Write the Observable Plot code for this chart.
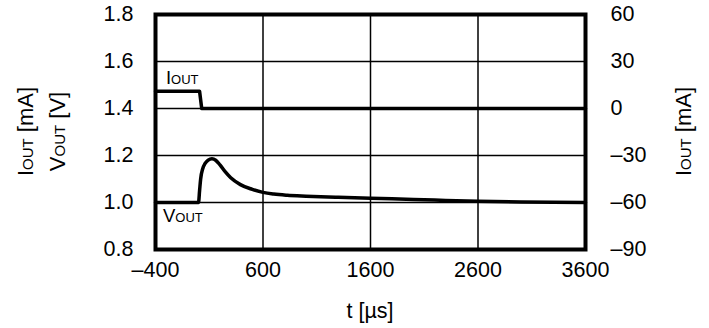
<!DOCTYPE html>
<html><head><meta charset="utf-8">
<script src="https://cdn.jsdelivr.net/npm/d3@7"></script>
<script src="https://cdn.jsdelivr.net/npm/@observablehq/plot@0.6"></script>
<style>body{margin:0;background:#fff;font-family:"Liberation Sans",Arial,sans-serif}</style>
</head><body><div id="chart"></div>
<script>
// Data
const tIout = [-400, 10, 30, 3600];            // µs
const iout = [11, 11, 0, 0];                   // mA
const tVout = [-400, 0, 10, 20, 40, 60, 90, 125, 160, 200, 250, 300, 390, 500, 600, 700, 825, 1000, 1300, 1600, 2000, 2300, 2600, 3000, 3600];
const vout  = [1.0, 1.0, 1.05, 1.10, 1.145, 1.165, 1.18, 1.186, 1.18, 1.16, 1.13, 1.105, 1.076, 1.056, 1.043, 1.036, 1.031, 1.027, 1.022, 1.018, 1.013, 1.009, 1.005, 1.002, 1.0];
const xTicks = [-400, 600, 1600, 2600, 3600];
const xTickLabels = ["–400", "600", "1600", "2600", "3600"];
const vTicks = [0.8, 1.0, 1.2, 1.4, 1.6, 1.8];
const vTickLabels = ["0.8", "1.0", "1.2", "1.4", "1.6", "1.8"];
const iTickLabels = ["–90", "–60", "–30", "0", "30", "60"];

// secondary axis: IOUT (mA) -> VOUT scale position
const iToV = i => 1.4 + i / 150;

const vData = tVout.map((t, k) => ({t, v: vout[k]}));
const iData = tIout.map((t, k) => ({t, i: iout[k]}));

const fs = 21.5;
const chart = Plot.plot({
  width: 709, height: 328,
  marginLeft: 155, marginRight: 124, marginTop: 14, marginBottom: 79,
  style: {fontFamily: "'Liberation Sans', Arial, sans-serif", fontSize: fs + "px", color: "#000", background: "#fff"},
  x: {domain: [-400, 3600]},
  y: {domain: [0.8, 1.8]},
  marks: [
    Plot.gridX(xTicks, {stroke: "#000", strokeOpacity: 1, strokeWidth: 1.5}),
    Plot.gridY(vTicks, {stroke: "#000", strokeOpacity: 1, strokeWidth: 1.5}),
    Plot.axisX(xTicks, {tickSize: 0, tickPadding: 12, label: null, fontSize: fs,
      tickFormat: d => xTickLabels[xTicks.indexOf(d)]}),
    Plot.axisY(vTicks, {anchor: "left", tickSize: 0, tickPadding: 22, label: null, fontSize: fs,
      tickFormat: d => vTickLabels[vTicks.indexOf(d)]}),
    Plot.axisY(vTicks, {anchor: "right", tickSize: 0, tickPadding: 25, label: null, fontSize: fs,
      tickFormat: d => iTickLabels[vTicks.indexOf(d)]}),
    Plot.line(vData, {x: "t", y: "v", stroke: "#000", strokeWidth: 3.5, strokeLinejoin: "round", curve: "monotone-x"}),
    Plot.line(iData, {x: "t", y: d => iToV(d.i), stroke: "#000", strokeWidth: 3.5, strokeLinejoin: "round"}),
    Plot.frame({stroke: "#000", strokeWidth: 4})
  ]
});
document.getElementById("chart").appendChild(chart);

const sx = chart.scale("x"), sy = chart.scale("y");
const svg = d3.select(chart);
const font = "'Liberation Sans', Arial, sans-serif";

function sublabel(g, main, sub, rest, big, small) {
  g.append("tspan").attr("font-size", big).text(main);
  g.append("tspan").attr("font-size", small).text(sub);
  if (rest) g.append("tspan").attr("font-size", big).text(rest);
}

// in-plot labels
sublabel(svg.append("text").attr("font-family", font).attr("fill", "#000").attr("text-anchor", "start")
  .attr("x", sx.apply(-298)).attr("y", sy.apply(1.504)), "I", "OUT", null, 18.5, 13);
sublabel(svg.append("text").attr("font-family", font).attr("fill", "#000").attr("text-anchor", "start")
  .attr("x", sx.apply(-326)).attr("y", sy.apply(0.913)), "V", "OUT", null, 18.5, 13);

// axis titles
const cy = (sy.apply(0.8) + sy.apply(1.8)) / 2;
sublabel(svg.append("text").attr("font-family", font).attr("fill", "#000").attr("text-anchor", "middle")
  .attr("transform", `translate(32.5,${cy}) rotate(-90)`), "I", "OUT", " [mA]", 22, 15);
sublabel(svg.append("text").attr("font-family", font).attr("fill", "#000").attr("text-anchor", "middle")
  .attr("transform", `translate(64.5,${cy}) rotate(-90)`), "V", "OUT", " [V]", 22, 15);
sublabel(svg.append("text").attr("font-family", font).attr("fill", "#000").attr("text-anchor", "middle")
  .attr("transform", `translate(690.5,${cy}) rotate(-90)`), "I", "OUT", " [mA]", 22, 15);
svg.append("text").attr("font-family", font).attr("fill", "#000").attr("text-anchor", "middle")
  .attr("font-size", 21.5).attr("x", (sx.apply(-400) + sx.apply(3600)) / 2).attr("y", 318).text("t [µs]");
</script></body></html>
